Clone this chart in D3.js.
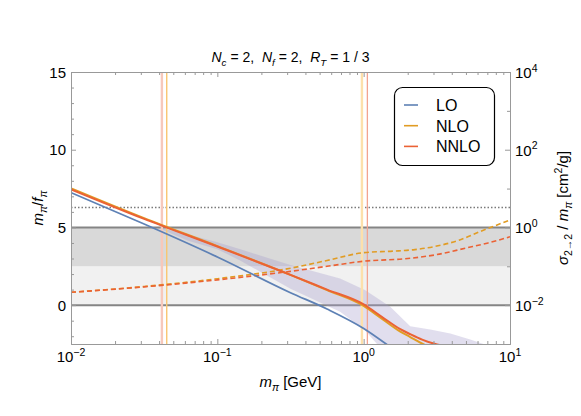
<!DOCTYPE html>
<html>
<head>
<meta charset="utf-8">
<script src="https://cdn.jsdelivr.net/npm/d3@7"></script>
<style>
  body { margin: 0; background: #fff; }
  svg { font-family: "Liberation Sans", Arial, sans-serif; }
</style>
</head>
<body>
<div id="chart"></div>
<script>
// m_pi [GeV] and m_pi/f_pi (left axis)
var loMpi = [0.01, 0.0316, 0.1, 0.316, 0.562, 1.0, 1.45];
var loRatio = [7.24, 5.22, 3.10, 0.80, -0.25, -1.50, -2.55];

var nloMpi = [0.01, 0.0316, 0.1, 0.316, 0.562, 1.0, 1.33, 1.78, 2.08, 2.54, 2.65];
var nloRatio = [7.52, 5.60, 3.80, 1.95, 0.97, -0.05, -0.87, -1.70, -2.05, -2.50, -2.58];

var nnloMpi = [0.01, 0.0316, 0.1, 0.316, 0.562, 1.0, 1.33, 1.78, 2.08, 2.51, 3.09, 3.3];
var nnloRatio = [7.45, 5.55, 3.77, 1.95, 1.00, 0.05, -0.75, -1.55, -1.87, -2.22, -2.50, -2.56];

// uncertainty band around NNLO
var bandUpperMpi = [0.0398, 0.0631, 0.1, 0.144, 0.316, 0.69, 1.02, 1.52, 2.08, 2.85, 3.91, 5.35, 7.08];
var bandUpper = [5.0, 4.55, 4.05, 3.59, 2.58, 1.72, 0.97, -0.11, -1.35, -1.57, -1.83, -2.21, -2.6];
var bandLowerMpi = [0.0398, 0.0631, 0.1, 0.144, 0.316, 0.69, 1.02, 1.26];
var bandLower = [4.95, 4.15, 3.6, 2.86, 1.05, -0.43, -1.61, -2.6];

// sigma_{2->2}/m_pi [cm^2/g] (right axis)
var nloSigmaMpi = [0.01, 0.0316, 0.1, 0.316, 0.562, 1.0, 1.58, 2.24, 3.16, 4.47, 6.31, 10];
var nloSigma = [0.0214, 0.0302, 0.0479, 0.0891, 0.141, 0.224, 0.245, 0.269, 0.331, 0.468, 0.794, 1.55];
var nnloSigmaMpi = [0.01, 0.0316, 0.1, 0.316, 0.562, 1.0, 2.0, 3.16, 5.01, 7.08, 10];
var nnloSigma = [0.0214, 0.0295, 0.0447, 0.0741, 0.1, 0.135, 0.158, 0.2, 0.295, 0.398, 0.575];

var markerMpi = [0.0418, 0.0451, 0.973, 1.06];
var unitarityRatio = 2 * Math.PI;
var darkBand = [2.5, 5];
var lightBand = [0, 2.5];
var refLines = [0, 5];

var leftTicks = [0, 5, 10, 15];
var rightExp = [-2, 0, 2, 4];
var rightMinorExp = [-3, -1, 1, 3];
var bottomExp = [-2, -1, 0, 1];
var legendLabels = ['LO', 'NLO', 'NNLO'];

var colors = { lo: '#5e81b5', nlo: '#e19c24', nnlo: '#eb6235' };
var markerStyle = [
  { c: '#f7c8bb', w: 2.4 },
  { c: '#f9c672', w: 1.4 },
  { c: '#fde0ab', w: 2.4 },
  { c: '#f2a390', w: 1.3 }
];

var W = 581, H = 416;
var margin = { top: 72, right: 71, bottom: 72, left: 71 };
var x0 = margin.left, x1 = W - margin.right, y0 = margin.top, y1 = H - margin.bottom;

var svg = d3.select('#chart').append('svg')
  .attr('width', W).attr('height', H);

var x = d3.scaleLog().domain([0.01, 10]).range([x0, x1]);
var yL = d3.scaleLinear().domain([-2.5, 15]).range([y1, y0]);
var yR = d3.scaleLog().domain([1e-3, 1e4]).range([y1, y0]);

svg.append('clipPath').attr('id', 'plot-clip')
  .append('rect').attr('x', x0).attr('y', y0).attr('width', x1 - x0).attr('height', y1 - y0);

var plot = svg.append('g').attr('clip-path', 'url(#plot-clip)');

// gray bands
[[lightBand, '#f1f1f1'], [darkBand, '#d9d9d9']].forEach(function(b) {
  plot.append('rect')
    .attr('x', x0).attr('width', x1 - x0)
    .attr('y', yL(b[0][1])).attr('height', yL(b[0][0]) - yL(b[0][1]))
    .attr('fill', b[1]);
});

plot.selectAll('.ref').data(refLines).enter().append('line')
  .attr('x1', x0).attr('x2', x1)
  .attr('y1', d => yL(d)).attr('y2', d => yL(d))
  .attr('stroke', '#858585').attr('stroke-width', 2);

plot.append('line')
  .attr('x1', x0).attr('x2', x1)
  .attr('y1', yL(unitarityRatio)).attr('y2', yL(unitarityRatio))
  .attr('stroke', '#7a7a7a').attr('stroke-width', 1.3)
  .attr('stroke-dasharray', '1.5,2');

// NNLO band
var bandPts = bandUpperMpi.map((m, i) => [x(m), yL(bandUpper[i])])
  .concat(bandLowerMpi.map((m, i) => [x(m), yL(bandLower[i])]).reverse());
plot.append('path')
  .attr('d', d3.line().curve(d3.curveLinearClosed)(bandPts))
  .attr('fill', '#a49ccc').attr('fill-opacity', 0.33);

plot.selectAll('.marker').data(markerMpi).enter().append('line')
  .attr('x1', d => x(d)).attr('x2', d => x(d))
  .attr('y1', y0).attr('y2', y1)
  .attr('stroke', (d, i) => markerStyle[i].c)
  .attr('stroke-width', (d, i) => markerStyle[i].w);

function curve(xs, ys, yScale) {
  var pts = xs.map((m, i) => [x(m), yScale(ys[i])]);
  return d3.line().curve(d3.curveMonotoneX)(pts);
}

plot.append('path').attr('d', curve(nloSigmaMpi, nloSigma, yR))
  .attr('fill', 'none').attr('stroke', colors.nlo).attr('stroke-width', 1.6)
  .attr('stroke-dasharray', '5,3');
plot.append('path').attr('d', curve(nnloSigmaMpi, nnloSigma, yR))
  .attr('fill', 'none').attr('stroke', colors.nnlo).attr('stroke-width', 1.6)
  .attr('stroke-dasharray', '5,3');

plot.append('path').attr('d', curve(loMpi, loRatio, yL))
  .attr('fill', 'none').attr('stroke', colors.lo).attr('stroke-width', 1.8);
plot.append('path').attr('d', curve(nloMpi, nloRatio, yL))
  .attr('fill', 'none').attr('stroke', colors.nlo).attr('stroke-width', 2);
plot.append('path').attr('d', curve(nnloMpi, nnloRatio, yL))
  .attr('fill', 'none').attr('stroke', colors.nnlo).attr('stroke-width', 2);

// frame + inward ticks
var xMajor = bottomExp.map(e => Math.pow(10, e));
var xMinor = [];
[-2, -1, 0].forEach(function(e) {
  for (var k = 2; k <= 9; k++) xMinor.push(k * Math.pow(10, e));
});
var yMinor = d3.range(-2, 15, 1).filter(v => leftTicks.indexOf(v) < 0);

function styleAxis(g) {
  g.selectAll('path.domain').attr('stroke', '#999');
  g.selectAll('.tick line').attr('stroke', '#999');
}

[[d3.axisBottom, y1, 'translate(0,' + y1 + ')'], [d3.axisTop, y0, 'translate(0,' + y0 + ')']].forEach(function(a) {
  svg.append('g').attr('transform', a[2])
    .call(a[0](x).tickValues(xMajor).tickSize(-5).tickSizeOuter(0).tickFormat(''))
    .call(styleAxis);
  svg.append('g').attr('transform', a[2])
    .call(a[0](x).tickValues(xMinor).tickSize(-3).tickSizeOuter(0).tickFormat(''))
    .call(styleAxis);
});

svg.append('g').attr('transform', 'translate(' + x0 + ',0)')
  .call(d3.axisLeft(yL).tickValues(leftTicks).tickSize(-5).tickSizeOuter(0).tickFormat(''))
  .call(styleAxis);
svg.append('g').attr('transform', 'translate(' + x0 + ',0)')
  .call(d3.axisLeft(yL).tickValues(yMinor).tickSize(-3).tickSizeOuter(0).tickFormat(''))
  .call(styleAxis);
svg.append('g').attr('transform', 'translate(' + x1 + ',0)')
  .call(d3.axisRight(yR).tickValues(rightExp.map(e => Math.pow(10, e))).tickSize(-5).tickSizeOuter(0).tickFormat(''))
  .call(styleAxis);
svg.append('g').attr('transform', 'translate(' + x1 + ',0)')
  .call(d3.axisRight(yR).tickValues(rightMinorExp.map(e => Math.pow(10, e))).tickSize(-3).tickSizeOuter(0).tickFormat(''))
  .call(styleAxis);

// text with sub/superscripts
function richText(g, tx, ty, parts, size, anchor) {
  var t = g.append('text').attr('x', tx).attr('y', ty)
    .attr('font-size', size).attr('text-anchor', anchor || 'start').attr('fill', '#000');
  var shift = 0;
  parts.forEach(function(p) {
    var target = p.sub ? 0.28 * size : (p.sup ? -0.42 * size : 0);
    var ts = t.append('tspan').text(p.t).attr('dy', target - shift);
    shift = target;
    if (p.sub || p.sup) ts.attr('font-size', size * 0.7);
    if (p.it) ts.attr('font-style', 'italic');
  });
  return t;
}

function expText(e) { return e < 0 ? '\u2212' + Math.abs(e) : String(e); }

leftTicks.forEach(function(v) {
  richText(svg, x0 - 5, yL(v) + 5.5, [{ t: String(v) }], 15, 'end');
});
rightExp.forEach(function(e) {
  richText(svg, x1 + 5, yR(Math.pow(10, e)) + 6, [{ t: '10' }, { t: expText(e), sup: true }], 15, 'start');
});
bottomExp.forEach(function(e) {
  richText(svg, x(Math.pow(10, e)), y1 + 18, [{ t: '10' }, { t: expText(e), sup: true }], 15, 'middle');
});

var sp = '\u00a0';
richText(svg, (x0 + x1) / 2, 62, [
  { t: 'N', it: true }, { t: 'c', it: true, sub: true }, { t: sp + '=' + sp + '2,' + sp + sp },
  { t: 'N', it: true }, { t: 'f', it: true, sub: true }, { t: sp + '=' + sp + '2,' + sp + sp },
  { t: 'R', it: true }, { t: 'T', it: true, sub: true }, { t: sp + '=' + sp + '1' + sp + '/' + sp + '3' }
], 14, 'middle');

richText(svg, (x0 + x1) / 2, 387, [
  { t: 'm', it: true }, { t: '\u03c0', it: true, sub: true }, { t: sp + '[GeV]' }
], 15, 'middle');

richText(svg.append('g').attr('transform', 'translate(43,' + ((y0 + y1) / 2) + ') rotate(-90)'), 0, 0, [
  { t: 'm', it: true }, { t: '\u03c0', it: true, sub: true }, { t: '/' },
  { t: 'f', it: true }, { t: '\u03c0', it: true, sub: true }
], 15, 'middle');

richText(svg.append('g').attr('transform', 'translate(568,' + ((y0 + y1) / 2) + ') rotate(-90)'), 0, 0, [
  { t: '\u03c3', it: true }, { t: '2\u21922', sub: true }, { t: sp + '/' + sp },
  { t: 'm', it: true }, { t: '\u03c0', it: true, sub: true }, { t: sp + '[cm' },
  { t: '2', sup: true }, { t: '/g]' }
], 15, 'middle');

// legend
var legend = svg.append('g');
legend.append('rect')
  .attr('x', 394.5).attr('y', 87.5).attr('width', 100).attr('height', 78).attr('rx', 8)
  .attr('fill', '#fff').attr('stroke', '#000').attr('stroke-width', 1.2);
var legendColors = [colors.lo, colors.nlo, colors.nnlo];
legendLabels.forEach(function(lab, i) {
  var ly = 105 + i * 20.7;
  legend.append('line').attr('x1', 404).attr('x2', 418).attr('y1', ly).attr('y2', ly)
    .attr('stroke', legendColors[i]).attr('stroke-width', 1.6);
  legend.append('text').attr('x', 436).attr('y', ly + 5.8).attr('font-size', 16).text(lab);
});
</script>
</body>
</html>
